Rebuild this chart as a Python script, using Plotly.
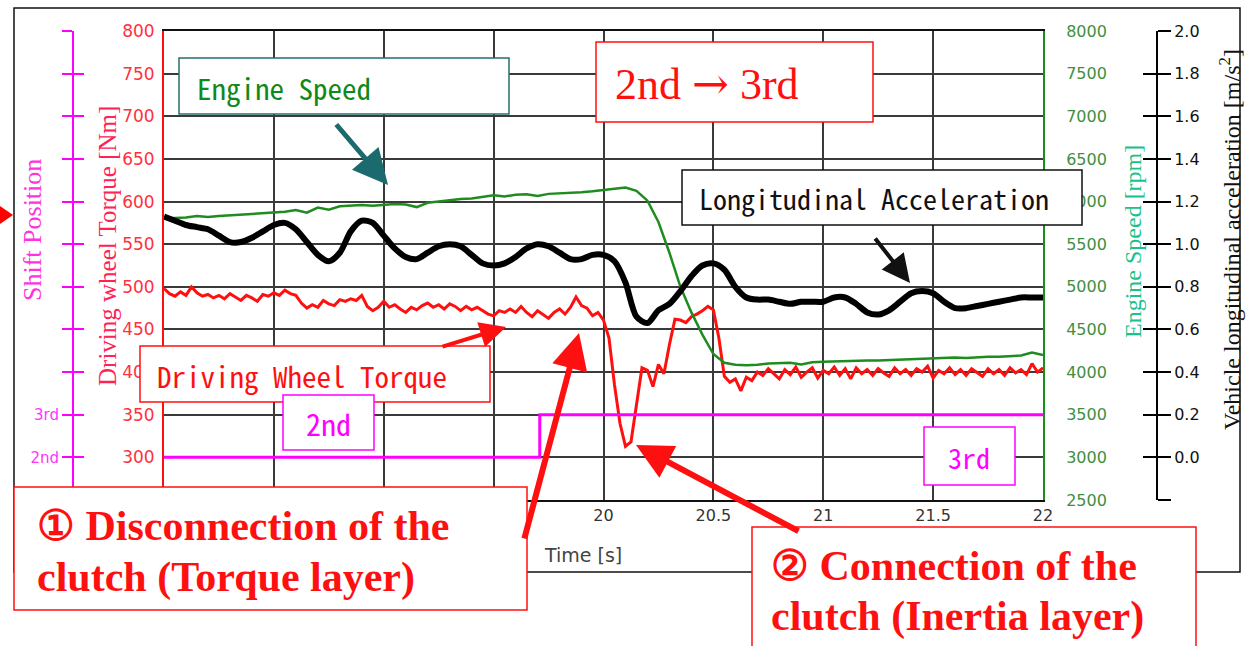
import plotly.graph_objects as go

W, H = 1254, 646


def px(x):
    return x / W


def py(y):
    return 1 - y / H


# ---------------- data ----------------
# Driving wheel torque [Nm], sampled every 0.025 s from 18.0 s to 22.0 s
torque_nm = [
    498, 492, 489, 494, 490, 500, 493, 489, 491, 487,
    490, 486, 492, 488, 484, 490, 487, 483, 491, 489,
    493, 490, 496, 492, 490, 481, 475, 479, 476, 484,
    480, 478, 485, 483, 486, 484, 490, 477, 472, 476,
    483, 476, 479, 474, 470, 476, 473, 478, 481, 476,
    479, 474, 480, 477, 472, 477, 473, 476, 472, 468,
    466, 472, 470, 474, 470, 477, 470, 465, 472, 468,
    463, 470, 474, 468, 476, 488, 478, 475, 466, 470,
    461, 440, 385, 340, 313, 318, 360, 405, 402, 383,
    409, 398, 432, 462, 461, 458, 465, 468, 472, 477,
    473, 440, 395, 388, 392, 378, 394, 390, 400, 396,
    404, 398, 392, 403, 397, 406, 394, 400, 405, 393,
    402, 398, 406, 396, 404, 392, 405, 398, 403, 396,
    404, 399, 395, 405, 398, 403, 396, 404, 400, 407,
    393, 402, 398, 405, 397, 403, 396, 404, 399, 395,
    404, 398, 403, 396, 405, 399, 403, 397, 410, 400,
    405,
]
t_torque = [round(18 + 0.025 * i, 3) for i in range(len(torque_nm))]

# Engine speed [rpm], sampled every 0.05 s
engine_rpm = [
    5800, 5805, 5812, 5830, 5818, 5830, 5838, 5845, 5855, 5862,
    5872, 5880, 5900, 5870, 5930, 5905, 5945, 5950, 5960, 5950,
    5960, 5970, 5965, 5935, 5985, 6000, 6010, 6030, 6035, 6055,
    6075, 6060, 6080, 6085, 6065, 6090, 6095, 6100, 6110, 6120,
    6135, 6150, 6165, 6125, 6010, 5760, 5400, 5000, 4700, 4440,
    4212, 4110, 4085, 4080, 4085, 4100, 4105, 4110, 4090, 4115,
    4120, 4125, 4125, 4130, 4135, 4135, 4140, 4145, 4150, 4150,
    4160, 4160, 4170, 4165, 4175, 4180, 4180, 4190, 4195, 4230,
    4200,
]
t_speed = [round(18 + 0.05 * i, 3) for i in range(len(engine_rpm))]

# Vehicle longitudinal acceleration [m/s2], sampled every 0.05 s
accel = [
    1.13, 1.11, 1.09, 1.08, 1.07, 1.04, 1.01, 1.01, 1.03, 1.06,
    1.09, 1.10, 1.07, 1.01, 0.95, 0.92, 0.96, 1.06, 1.11, 1.10,
    1.04, 0.98, 0.94, 0.93, 0.96, 0.99, 1.00, 0.99, 0.95, 0.91,
    0.90, 0.91, 0.94, 0.98, 1.00, 0.99, 0.96, 0.93, 0.93, 0.95,
    0.95, 0.92, 0.82, 0.66, 0.63, 0.69, 0.72, 0.78, 0.85, 0.90,
    0.91, 0.88, 0.80, 0.75, 0.74, 0.74, 0.73, 0.72, 0.73, 0.73,
    0.73, 0.75, 0.75, 0.72, 0.68, 0.67, 0.69, 0.73, 0.77, 0.78,
    0.77, 0.73, 0.70, 0.70, 0.71, 0.72, 0.73, 0.74, 0.75, 0.75,
    0.75,
]
t_accel = [round(18 + 0.05 * i, 3) for i in range(len(accel))]

# Shift position (2 = 2nd, 3 = 3rd)
gear_time = [18.0, 19.71, 22.0]
gear_pos = [2, 3, 3]

# tick definitions
time_ticks = [18, 18.5, 19, 19.5, 20, 20.5, 21, 21.5, 22]
time_labels = ["", "", "", "", "20", "20.5", "21", "21.5", "22"]
torque_ticks = [300, 350, 400, 450, 500, 550, 600, 650, 700, 750, 800]
speed_ticks = [2500, 3000, 3500, 4000, 4500, 5000, 5500, 6000, 6500, 7000, 7500, 8000]
accel_ticks = [-0.2, 0.0, 0.2, 0.4, 0.6, 0.8, 1.0, 1.2, 1.4, 1.6, 1.8, 2.0]
accel_labels = ["", "0.0", "0.2", "0.4", "0.6", "0.8", "1.0", "1.2", "1.4", "1.6", "1.8", "2.0"]
shift_ticks = [2, 3, 4, 5, 6, 7, 8, 9, 10, 11, 12]
shift_labels = ["2nd", "3rd", "", "", "", "", "", "", "", "", ""]

# ---------------- styling ----------------
RED = "#ff1010"
GREEN = "#1e8c1e"
MAGENTA = "#ff00ff"
GRID = "#3a3a3a"
SERIF = "Liberation Serif, Times New Roman, serif"
SANS = "DejaVu Sans, Arial, sans-serif"
MONO = "Noto Sans Mono CJK JP, DejaVu Sans Mono, monospace"

fig = go.Figure()
fig.add_trace(go.Scatter(x=t_torque, y=torque_nm, yaxis="y", mode="lines",
                         line=dict(color=RED, width=3), showlegend=False, hoverinfo="skip"))
fig.add_trace(go.Scatter(x=gear_time, y=gear_pos, yaxis="y2", mode="lines",
                         line=dict(color=MAGENTA, width=3, shape="hv"), showlegend=False, hoverinfo="skip"))
fig.add_trace(go.Scatter(x=[], y=[], yaxis="y3", showlegend=False))
fig.add_trace(go.Scatter(x=t_speed, y=engine_rpm, yaxis="y4", mode="lines",
                         line=dict(color=GREEN, width=2.5), showlegend=False, hoverinfo="skip"))
fig.add_trace(go.Scatter(x=t_accel, y=accel, yaxis="y5", mode="lines",
                         line=dict(color="black", width=6, shape="spline", smoothing=0.8),
                         showlegend=False, hoverinfo="skip"))
fig.add_trace(go.Scatter(x=[], y=[], yaxis="y6", showlegend=False))

xdom = [px(164), px(1043)]
ydom = [py(500), py(31)]

shift_axis = dict(overlaying="y", anchor="free", position=px(73), side="left", range=[1, 12],
                  tickmode="array", tickvals=shift_ticks, ticktext=shift_labels,
                  ticklen=10, tickwidth=2, tickcolor=MAGENTA, showline=True, linecolor=MAGENTA,
                  linewidth=2, showgrid=False, zeroline=False, automargin=False,
                  tickfont=dict(family=SANS, size=15, color="#ff33ff"))
accel_axis = dict(overlaying="y", anchor="free", position=px(1157), side="right", range=[-0.2, 2.0],
                  tickmode="array", tickvals=accel_ticks, ticktext=accel_labels,
                  ticklen=13, tickwidth=2, tickcolor="black", showline=True, linecolor="black",
                  linewidth=2, showgrid=False, zeroline=False, automargin=False,
                  tickfont=dict(family=SANS, size=16, color="#111"))

fig.update_layout(
    width=W, height=H, template="none",
    margin=dict(l=0, r=0, t=0, b=0),
    paper_bgcolor="white", plot_bgcolor="white",
    showlegend=False,
    xaxis=dict(domain=xdom, range=[18, 22], tickmode="array", tickvals=time_ticks, ticktext=time_labels,
               showgrid=True, gridcolor=GRID, gridwidth=1.5, showline=True, linecolor="#111",
               linewidth=2, mirror=True, ticks="", zeroline=False, automargin=False,
               tickfont=dict(family=SANS, size=16, color="#333")),
    yaxis=dict(domain=ydom, range=[250, 800], tickmode="array", tickvals=torque_ticks,
               showgrid=True, gridcolor=GRID, gridwidth=1.5, showline=True, linecolor=RED,
               linewidth=2, ticks="", zeroline=False, automargin=False, ticklabelstandoff=4,
               tickfont=dict(family=SANS, size=17, color="#ff3040")),
    yaxis2=dict(shift_axis, ticks="outside", showticklabels=True),
    yaxis3=dict(shift_axis, ticks="inside", showticklabels=False),
    yaxis4=dict(overlaying="y", anchor="x", side="right", range=[2500, 8000], tickmode="array",
                tickvals=speed_ticks, showline=True, linecolor="#1a8f1a", linewidth=2, ticks="",
                showgrid=False, zeroline=False, automargin=False, ticklabelstandoff=18,
                tickfont=dict(family=SANS, size=16, color="#3f8f3f")),
    yaxis5=dict(accel_axis, ticks="outside", showticklabels=True),
    yaxis6=dict(accel_axis, ticks="inside", showticklabels=False),
)


def box(x0, y0, x1, y1, color, width=1.5):
    fig.add_shape(type="rect", xref="paper", yref="paper", x0=px(x0), x1=px(x1),
                  y0=py(y1), y1=py(y0), line=dict(color=color, width=width),
                  fillcolor="white", layer="above")


def label(text, x, y, size, color, family, xanchor="left", angle=0):
    fig.add_annotation(text=text, x=px(x), y=py(y), xref="paper", yref="paper",
                       xanchor=xanchor, yanchor="middle", align="left", showarrow=False,
                       textangle=angle, font=dict(family=family, size=size, color=color))


def arrow(hx, hy, tx, ty, color, width, size=1.0):
    fig.add_annotation(text="", x=px(hx), y=py(hy), xref="paper", yref="paper",
                       ax=tx - hx, ay=ty - hy, axref="pixel", ayref="pixel",
                       showarrow=True, arrowhead=2, arrowsize=size, arrowwidth=width,
                       arrowcolor=color, standoff=0)


# outer frame
fig.add_shape(type="rect", xref="paper", yref="paper", x0=px(14), x1=px(1240), y0=py(572), y1=py(8),
              line=dict(color="#111", width=1.5), fillcolor="rgba(0,0,0,0)", layer="above")

# left red arrowhead (pointing into the frame)
fig.add_shape(type="path", xref="paper", yref="paper",
              path=f"M {px(0)},{py(206)} L {px(13)},{py(215)} L {px(0)},{py(224)} Z",
              fillcolor="#ff0000", line=dict(color="#ff0000", width=0), layer="above")

# axis titles
label("Shift Position", 32, 230, 26, "#ff33dd", SERIF, xanchor="center", angle=-90)
label("Driving wheel Torque [Nm]", 108, 246, 25, "#ff2255", SERIF, xanchor="center", angle=-90)
label("Engine Speed [rpm]", 1133, 242, 24, "#19c28a", SERIF, xanchor="center", angle=-90)
label("Vehicle longitudinal acceleration [m/s<sup>2</sup>]", 1230, 240, 24, "#111", SERIF,
      xanchor="center", angle=-90)
label("Time [s]", 583, 555, 19, "#444", SANS, xanchor="center")

# callout boxes
box(179, 58, 509, 114, "#2a6e6e")
label("Engine Speed", 195, 87, 29, "#0f8a1a", MONO)

box(596, 42, 873, 122, RED)
label("2nd <span style='font-family:DejaVu Serif'>→</span> 3rd", 613, 83, 44, RED, SERIF)

box(682, 170, 1082, 225, "#111")
label("Longitudinal Acceleration", 697, 198, 28, "#111", MONO)

box(140, 346, 490, 402, RED)
label("Driving Wheel Torque", 155, 375, 29, RED, MONO)

box(283, 395, 374, 450, MAGENTA)
label("2nd", 328, 423, 30, MAGENTA, MONO, xanchor="center")

box(924, 427, 1015, 485, MAGENTA)
label("3rd", 969, 457, 28, MAGENTA, MONO, xanchor="center")

box(14, 487, 527, 610, RED)
label("<b>① Disconnection of the</b>", 35, 526, 42, RED, SERIF)
label("<b>clutch (Torque layer)</b>", 35, 577, 42, RED, SERIF)

box(752, 527, 1196, 690, RED)
label("<b>② Connection of the</b>", 769, 566, 42, RED, SERIF)
label("<b>clutch (Inertia layer)</b>", 769, 616, 42, RED, SERIF)

# arrows
arrow(388, 185, 335, 123, "#1b6a6e", 5, 1.4)
arrow(910, 283, 874, 237, "#111", 4, 1.4)
arrow(506, 327, 441, 347, RED, 4, 1.3)
arrow(579, 333, 524, 540, RED, 6, 1.2)
arrow(636, 445, 800, 532, RED, 6, 1.2)

fig.write_html("out.html")
